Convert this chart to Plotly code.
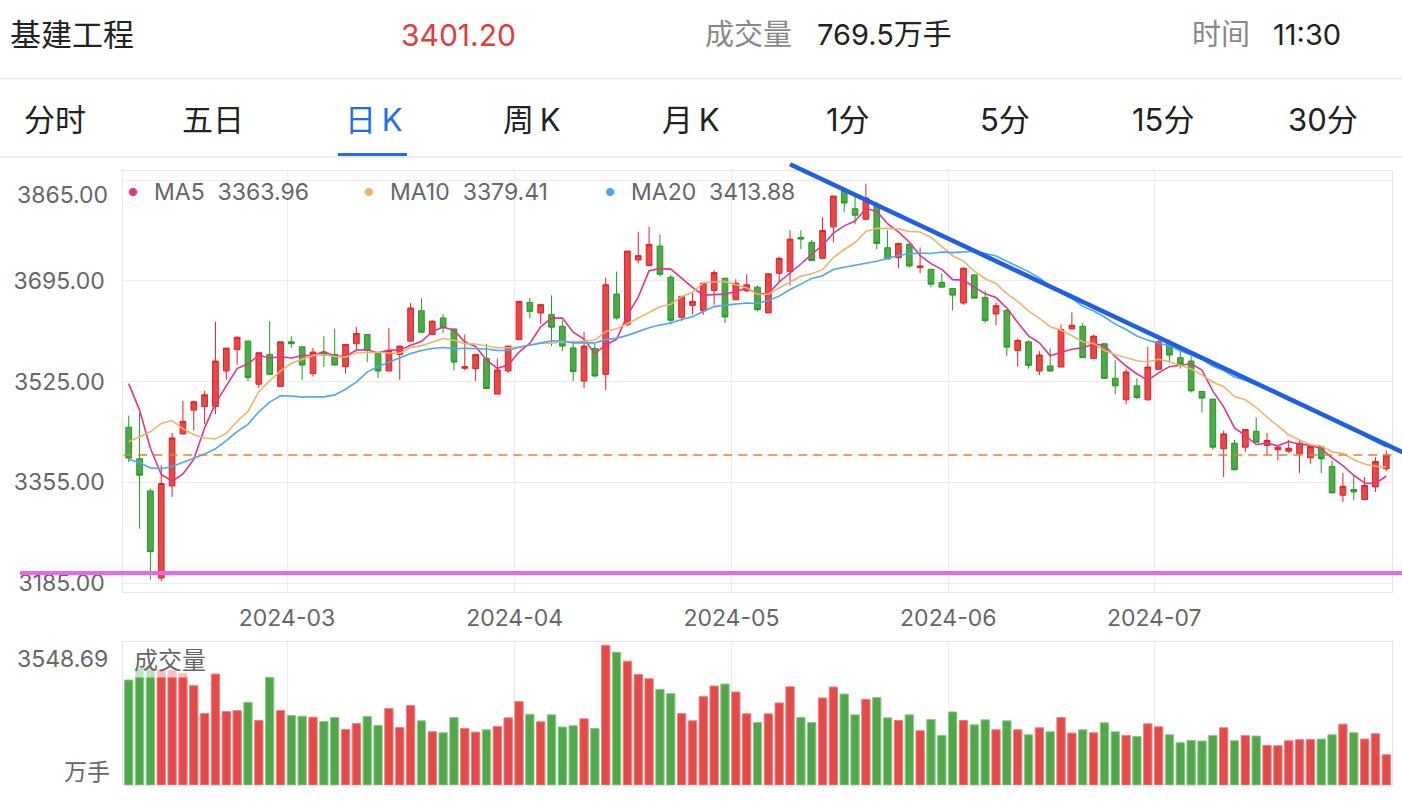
import numpy as np
import plotly.graph_objects as go

# ---------------- data ----------------
trade_days = {
    "2024-02": [1, 2, 5, 6, 7, 8, 19, 20, 21, 22, 23, 26, 27, 28, 29],
    "2024-03": [1, 4, 5, 6, 7, 8, 11, 12, 13, 14, 15, 18, 19, 20, 21, 22, 25, 26, 27, 28, 29],
    "2024-04": [1, 2, 3, 8, 9, 10, 11, 12, 15, 16, 17, 18, 19, 22, 23, 24, 25, 26, 29, 30],
    "2024-05": [6, 7, 8, 9, 10, 13, 14, 15, 16, 17, 20, 21, 22, 23, 24, 27, 28, 29, 30, 31],
    "2024-06": [3, 4, 5, 6, 7, 11, 12, 13, 14, 17, 18, 19, 20, 21, 24, 25, 26, 27, 28],
    "2024-07": [1, 2, 3, 4, 5, 8, 9, 10, 11, 12, 15, 16, 17, 18, 19, 22, 23, 24, 25, 26, 29, 30],
}
dates = [f"{m}-{d:02d}" for m, ds in trade_days.items() for d in ds]
month_labels = ["2024-03", "2024-04", "2024-05", "2024-06", "2024-07"]

opens = [3448, 3395, 3340.6, 3193.5, 3349, 3436.8, 3477, 3483, 3483, 3543,
         3579.4, 3593.4, 3520.7, 3571, 3516.7, 3592.3, 3583.9, 3538.6, 3575, 3571,
         3550.3, 3589, 3604.5, 3572.7, 3543, 3571, 3593.4, 3644.8, 3604.5, 3632.5,
         3614, 3547.5, 3547, 3564, 3504, 3543, 3596, 3658.8, 3641, 3638,
         3618.5, 3582, 3526, 3581, 3537.4, 3672.8, 3621.3, 3730.4, 3720.9, 3753.9,
         3701.3, 3633.6, 3653.8, 3644.8, 3678.9, 3699.6, 3663.3, 3678.4, 3684.5, 3641,
         3708, 3710.8, 3768.4, 3760, 3733.2, 3786.3, 3846.7, 3817, 3799.2, 3821,
         3751, 3734.3, 3756.7, 3717.5, 3714.7, 3692.4, 3682.3, 3657.7, 3705.2, 3667.2,
         3639.2, 3645.4, 3577.7, 3592.2, 3543, 3551.4, 3549.7, 3614, 3618.5, 3564.3,
         3589, 3530.7, 3494.4, 3517.9, 3494.4, 3545.8, 3590.6, 3565.4, 3559.8, 3508.4,
         3495.5, 3411.6, 3421, 3414.4, 3441.2, 3417.2, 3410, 3407.7, 3403.2, 3396.5,
         3415.5, 3381.9, 3333.3, 3342.8, 3326, 3347.3, 3378]
highs = [3467.5, 3472, 3344.5, 3383.6, 3438.4, 3492.7, 3493, 3509.5, 3625.8, 3581.6,
         3601.7, 3595, 3574, 3627, 3592.2, 3601.8, 3584, 3582, 3601.8, 3614.6,
         3588, 3617, 3604.5, 3573, 3615.7, 3585, 3657.7, 3666, 3628.6, 3639,
         3614, 3604.5, 3571, 3589, 3564, 3585, 3661, 3666, 3655, 3670.6,
         3628, 3594.5, 3609, 3589, 3700.7, 3710.8, 3745.5, 3777.9, 3786.3, 3773.5,
         3705, 3669, 3675.6, 3691.2, 3713.6, 3700, 3698, 3706.3, 3687.3, 3707,
         3736, 3780.7, 3780.7, 3764, 3802.5, 3838.3, 3850.6, 3838.3, 3859, 3828.3,
         3780.7, 3758.4, 3760, 3751.6, 3714.7, 3707.5, 3682.3, 3718, 3706, 3678.4,
         3658.8, 3646.5, 3597.8, 3594.5, 3576.6, 3581, 3621.3, 3642, 3624, 3604.5,
         3589, 3561, 3547, 3530.7, 3583.9, 3600, 3596, 3579.4, 3568.2, 3508.4,
         3495.5, 3442.4, 3426.7, 3445.2, 3464.7, 3438.4, 3415.5, 3426.7, 3425.6, 3417.2,
         3417.2, 3392, 3370.8, 3365.2, 3364, 3397.6, 3408.8]
lows = [3389, 3277, 3190.7, 3188, 3330.5, 3436, 3442.4, 3453.5, 3470.3, 3528,
        3554, 3526, 3515, 3537, 3516, 3582, 3528, 3533.5, 3549.7, 3553,
        3538.6, 3577.7, 3558, 3530.7, 3543, 3528, 3593, 3608, 3604, 3607,
        3544, 3544, 3526, 3513, 3504, 3540, 3596, 3632.5, 3622.5, 3585,
        3576.6, 3526, 3514, 3531.8, 3510.6, 3629.7, 3618.5, 3724.8, 3721, 3702.4,
        3621.3, 3627, 3638, 3638, 3655, 3624, 3663, 3676, 3643.7, 3641,
        3691, 3687.3, 3748.8, 3729, 3733, 3760, 3811.5, 3790.8, 3797.5, 3748.8,
        3732, 3716.4, 3717.5, 3708, 3684, 3684, 3645.4, 3655, 3666, 3624,
        3620, 3568.2, 3550.3, 3547, 3536.3, 3542, 3549.7, 3614, 3565, 3564,
        3530, 3504, 3487, 3495.5, 3492.7, 3545.8, 3557, 3547, 3506.7, 3473,
        3410, 3364, 3375, 3406, 3422.8, 3402, 3392, 3404.3, 3370.8, 3386.4,
        3370.8, 3337, 3322.1, 3324.9, 3326, 3338.9, 3374]
closes = [3396, 3367, 3238, 3353, 3430, 3458, 3491, 3502.8, 3559.8, 3581.6,
          3600, 3531.8, 3573.8, 3537.4, 3592.2, 3589, 3553, 3575, 3570, 3553,
          3587.8, 3606.2, 3577.7, 3543, 3577.7, 3585, 3649.3, 3608.5, 3627, 3615.7,
          3558, 3550.3, 3571, 3513.4, 3544.7, 3585, 3660.5, 3643.7, 3655, 3617,
          3585, 3542, 3585, 3534.6, 3688.4, 3632.5, 3745.5, 3737.7, 3756.7, 3706.3,
          3628.6, 3668.9, 3660.5, 3691.2, 3709, 3634.2, 3691.2, 3688.4, 3646.5, 3707,
          3733.2, 3765.6, 3765.6, 3729.3, 3780.2, 3838.3, 3826.6, 3806, 3835, 3758.4,
          3732, 3758.4, 3720.3, 3720.3, 3689.6, 3684.5, 3671.1, 3716.4, 3666, 3628,
          3653.2, 3583.3, 3594.5, 3552.5, 3570, 3543, 3613, 3620.2, 3565.4, 3601.8,
          3530.7, 3517.9, 3541.3, 3498.3, 3549.7, 3592.2, 3570, 3554.2, 3509.5, 3497.2,
          3414.4, 3436.8, 3376.4, 3444, 3422.8, 3425.6, 3414.4, 3412.7, 3421, 3415.5,
          3394.8, 3337.2, 3348.4, 3338.9, 3350, 3390.3, 3401.2]
# closes of the 19 sessions before the first candle (needed for the moving averages)
prior_closes = [3470, 3420, 3385, 3350, 3330, 3345, 3360, 3380, 3310, 3290,
                3287, 3148, 3213, 3380, 3598, 3590, 3560, 3575, 3487]
volumes = [2666, 2968, 2968, 2918, 2918, 2842, 2523, 1816, 2817, 1867,
           1892, 2102, 1640, 2733, 1892, 1766, 1749, 1724, 1615, 1715,
           1413, 1564, 1741, 1514, 1942, 1463, 2018, 1631, 1354, 1329,
           1715, 1438, 1345, 1404, 1488, 1707, 2119, 1800, 1606, 1783,
           1472, 1505, 1682, 1438, 3548.69, 3372, 3145, 2809, 2699, 2430,
           2321, 1816, 1631, 2245, 2514, 2565, 2363, 1808, 1589, 1808,
           2085, 2497, 1715, 1589, 2212, 2489, 2312, 1783, 2178, 2220,
           1707, 1640, 1783, 1379, 1665, 1261, 1858, 1640, 1530, 1657,
           1404, 1631, 1404, 1278, 1455, 1354, 1715, 1320, 1404, 1329,
           1581, 1354, 1261, 1236, 1556, 1480, 1278, 1076, 1135, 1118,
           1261, 1455, 1127, 1261, 1245, 1009, 1001, 1127, 1152, 1160,
           1169, 1278, 1547, 1329, 1169, 1303, 769.5]
price_ticks = [3185, 3355, 3525, 3695, 3865]
ma_periods = [5, 10, 20]
ma_colors = ["#E0358A", "#F0B468", "#4DA6F2"]
ma_legend_values = ["3363.96", "3379.41", "3413.88"]
last_price = 3401.20
support_level = 3201.8
trend_line = [(61.0, 3892.0), (117.5, 3406.0)]   # hand-drawn trend line (index, price)

header_name = "基建工程"
header_price = "3401.20"
header_volume = "769.5万手"
header_time = "11:30"
tabs = ["分时", "五日", "日\u2009K", "周\u2009K", "月\u2009K", "1分", "5分", "15分", "30分"]
active_tab = "日\u2009K"

# ---------------- derived ----------------
n = len(dates)
xs = np.arange(n)
full_closes = np.array(prior_closes + closes, dtype=float)
off = len(prior_closes)
mas = []
for p in ma_periods:
    mas.append([full_closes[off + i - p + 1: off + i + 1].mean() for i in range(n)])

up = [c >= o for o, c in zip(opens, closes)]
RED_FILL, RED_LINE = "#E34A4A", "#E61E24"
GRN_FILL, GRN_LINE = "#52A74D", "#1E9E1E"

# ---------------- geometry ----------------
W, H = 1402, 806
X0, X1 = 123.3, 1391.7
P_TOP, P_BOT = 171.7, 596.0
V_TOP, V_BOT = 645.7, 790.0
px_per_pt = (586.7 - 282.7) / (3695 - 3185)
y_lo = 3185 - (P_BOT - 586.7) / px_per_pt
y_hi = 3185 + (586.7 - P_TOP) / px_per_pt
vol_hi = max(volumes) * (V_BOT - V_TOP) / (V_BOT - 649.3)


def xp(px):
    return px / W


def yp(py):
    return 1 - py / H


def idx_px(i):
    return X0 + (i + 0.5) / n * (X1 - X0)


def price_py(p):
    return P_BOT - (p - y_lo) / (y_hi - y_lo) * (P_BOT - P_TOP)


month_ticks = [dates.index(next(d for d in dates if d.startswith(m))) - 0.4 for m in month_labels]

FONT = "Inter, 'Noto Sans CJK SC', sans-serif"
GRID = "#ECECEC"
AX_FONT = 23

fig = go.Figure()
fig.add_trace(go.Candlestick(
    x=xs, open=opens, high=highs, low=lows, close=closes,
    increasing=dict(line=dict(color=RED_LINE, width=1), fillcolor=RED_FILL),
    decreasing=dict(line=dict(color=GRN_LINE, width=1), fillcolor=GRN_FILL),
    whiskerwidth=0, xaxis="x", yaxis="y", hovertext=dates, name="K"))
for p, ma, col in zip(ma_periods, mas, ma_colors):
    fig.add_trace(go.Scatter(x=xs, y=ma, mode="lines", line=dict(color=col, width=1.6),
                             xaxis="x", yaxis="y", name=f"MA{p}", hoverinfo="skip"))
fig.add_trace(go.Bar(
    x=xs, y=volumes, xaxis="x2", yaxis="y2",
    marker=dict(color=[RED_FILL if u else GRN_FILL for u in up],
                line=dict(color=["#F08080" if u else "#8ACB86" for u in up], width=1)),
    name="成交量"))

fig.update_layout(
    width=W, height=H, margin=dict(l=0, r=0, t=0, b=0),
    paper_bgcolor="white", plot_bgcolor="white", showlegend=False,
    font=dict(family=FONT, color="#666"),
    boxgap=0.25, bargap=0.23,
    xaxis=dict(domain=[xp(X0), xp(X1)], range=[-0.5, n - 0.5], anchor="y",
               rangeslider=dict(visible=False), tickmode="array",
               tickvals=month_ticks, ticktext=month_labels, showgrid=True, gridcolor=GRID,
               gridwidth=1, zeroline=False, showline=True, linecolor="#E6E6E6", mirror=True,
               ticks="", ticklabelstandoff=5, tickfont=dict(size=AX_FONT, color="#666")),
    yaxis=dict(domain=[yp(P_BOT), yp(P_TOP)], range=[y_lo, y_hi], anchor="x",
               tickmode="array", tickvals=price_ticks,
               ticktext=[f"{v:.2f}" if v != price_ticks[-1] else "" for v in price_ticks],
               showgrid=True, gridcolor=GRID, zeroline=False, showline=True,
               linecolor="#E6E6E6", mirror=True, ticks="", ticklabelstandoff=13,
               tickfont=dict(size=AX_FONT, color="#666")),
    xaxis2=dict(domain=[xp(X0), xp(X1)], range=[-0.5, n - 0.5], anchor="y2",
                tickmode="array", tickvals=month_ticks, showticklabels=False,
                showgrid=True, gridcolor=GRID, zeroline=False, showline=True,
                linecolor="#E6E6E6", mirror=True, ticks=""),
    yaxis2=dict(domain=[yp(V_BOT), yp(V_TOP)], range=[0, vol_hi], anchor="x2",
                showticklabels=False, showgrid=False, zeroline=False, showline=True,
                linecolor="#E6E6E6", mirror=True, ticks=""),
)

shapes = []
# last price dashed line
shapes.append(dict(type="line", xref="x", yref="y", x0=-0.5, x1=n - 0.5, y0=last_price, y1=last_price,
                   line=dict(color="#EE7A2E", width=1.5, dash="9px,6px")))
# support (pink) line drawn across the panel
shapes.append(dict(type="line", xref="paper", yref="paper", x0=xp(20), x1=1,
                   y0=yp(price_py(support_level)), y1=yp(price_py(support_level)),
                   line=dict(color="#EE66EE", width=4)))
# trend line
(tx0, ty0), (tx1, ty1) = trend_line
shapes.append(dict(type="line", xref="paper", yref="paper",
                   x0=xp(idx_px(tx0)), y0=yp(price_py(ty0)), x1=xp(idx_px(tx1)), y1=yp(price_py(ty1)),
                   line=dict(color="#1F5FE6", width=4.5)))
# header separators and active tab underline
shapes.append(dict(type="line", xref="paper", yref="paper", x0=0, x1=1, y0=yp(79), y1=yp(79),
                   line=dict(color="#E8E8E8", width=1.5)))
shapes.append(dict(type="line", xref="paper", yref="paper", x0=0, x1=1, y0=yp(158), y1=yp(158),
                   line=dict(color="#E8E8E8", width=1.5)))
shapes.append(dict(type="line", xref="paper", yref="paper", x0=xp(338), x1=xp(407), y0=yp(155.5), y1=yp(155.5),
                   line=dict(color="#1E6FE8", width=3)))
fig.update_layout(shapes=shapes)

ann = []


def text(x, y, s, size, color, xanchor="left", **kw):
    ann.append(dict(x=xp(x), y=yp(y), xref="paper", yref="paper", text=s, showarrow=False,
                    xanchor=xanchor, yanchor="middle", font=dict(size=size, color=color, family=FONT), **kw))


# header
text(8, 35, header_name, 31, "#222")
text(458, 35, header_price, 30, "#E23B3B", xanchor="center")
text(703, 35, "成交量", 29, "#888")
text(815, 35, header_volume, 29, "#222")
text(1190, 35, "时间", 29, "#888")
text(1271, 35, header_time, 29, "#222")
tab_centers = [55, 213, 373, 531, 690, 848, 1005, 1163, 1323]
for t, cx in zip(tabs, tab_centers):
    text(cx, 120, t, 31, "#1E6FE8" if t == active_tab else "#222", xanchor="center")

# MA legend
leg_x = [133, 369, 610]
for lx, p, col, val in zip(leg_x, ma_periods, ma_colors, ma_legend_values):
    text(lx, 193, "●", 11, col, xanchor="center")
    text(lx + 19, 193, f"MA{p}&nbsp;&nbsp;{val}", 23, "#666")

# top price label (kept inside the panel)
text(110, 196, f"{price_ticks[-1]:.2f}", AX_FONT, "#666", xanchor="right")
# volume panel labels
text(110, 663, f"{max(volumes):.2f}", AX_FONT, "#666", xanchor="right")
text(112, 777, "万手", 23, "#666", xanchor="right")
text(131, 665, "成交量", 24, "#666", bgcolor="rgba(255,255,255,0.65)", borderpad=2)

fig.update_layout(annotations=ann)
fig.write_html("out.html")
